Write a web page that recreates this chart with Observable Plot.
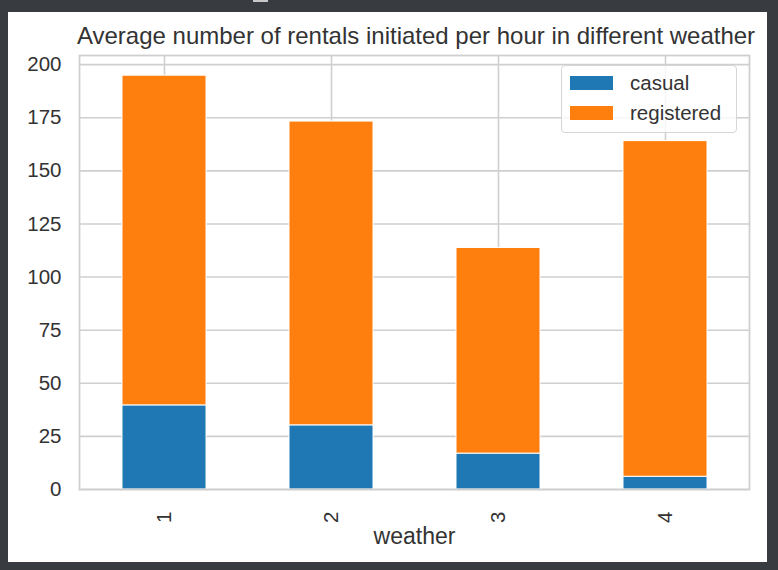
<!DOCTYPE html>
<html>
<head>
<meta charset="utf-8">
<script src="https://cdn.jsdelivr.net/npm/d3@7"></script>
<script src="https://cdn.jsdelivr.net/npm/@observablehq/plot@0.6"></script>
<style>
  html, body { margin: 0; padding: 0; }
  body { background: #383c40; width: 778px; height: 570px; position: relative; overflow: hidden;
         font-family: "Liberation Sans", Arial, sans-serif; }
  #mark { position: absolute; left: 253px; top: 0; width: 15px; height: 2px; background: #c8c8c8; }
  #panel { position: absolute; left: 8px; top: 12px; width: 759px; height: 550px; background: #fff; }
  #legend { position: absolute; left: 553px; top: 53px; width: 174px; height: 66px;
            border: 1px solid #d6d6d6; border-radius: 4px; background: rgba(255,255,255,0.8);
            color: #333; font-size: 20.5px; }
  .sw { position: absolute; left: 8px; width: 43px; height: 14px; }
  .lb { position: absolute; left: 68px; line-height: 20px; }
</style>
</head>
<body>
<div id="mark"></div>
<div id="panel"><div id="chart"></div>
  <div id="legend">
    <div class="sw" style="top:10px;background:#1f77b4"></div><div class="lb" style="top:7px">casual</div>
    <div class="sw" style="top:40px;background:#ff7f0e"></div><div class="lb" style="top:37px">registered</div>
  </div>
</div>
<script>
const weather = ["1", "2", "3", "4"];
const casual = [39.6, 30.2, 16.9, 6.0];
const registered = [155.2, 143.0, 96.8, 158.0];
const seriesNames = ["casual", "registered"];
const seriesColors = ["#1f77b4", "#ff7f0e"];
const yTicks = [0, 25, 50, 75, 100, 125, 150, 175, 200];
const titleText = "Average number of rentals initiated per hour in different weather";
const xLabel = "weather";

const rows = [];
weather.forEach((w, i) => {
  rows.push({weather: w, series: "casual", value: casual[i]});
  rows.push({weather: w, series: "registered", value: registered[i]});
});

const gridColor = "#cfcfcf";
const chart = Plot.plot({
  width: 759,
  height: 550,
  marginLeft: 71,
  marginRight: 18,
  marginTop: 43,
  marginBottom: 73,
  style: {fontFamily: "'Liberation Sans', Arial, sans-serif", fontSize: "20.5px", color: "#333", background: "transparent"},
  x: {type: "band", domain: weather, paddingInner: 0.5, paddingOuter: 0.25},
  y: {domain: [0, 204.3]},
  color: {domain: seriesNames, range: seriesColors},
  marks: [
    Plot.gridY(yTicks, {stroke: gridColor, strokeOpacity: 1, strokeWidth: 1.6}),
    Plot.gridX({stroke: gridColor, strokeOpacity: 1, strokeWidth: 1.6}),
    Plot.barY(rows, {x: "weather", y: "value", fill: "series", stroke: "white", strokeWidth: 1}),
    Plot.frame({stroke: gridColor, strokeWidth: 1.8}),
    Plot.axisY(yTicks, {tickSize: 0, tickPadding: 18, label: null, fontSize: 20.5}),
    Plot.axisX({tickSize: 0, tickPadding: 22, tickRotate: -90, label: null, fontSize: 20.5}),
    Plot.text([xLabel], {frameAnchor: "bottom", lineAnchor: "bottom", dy: 54, fontSize: 23}),
    Plot.text([titleText], {frameAnchor: "top", lineAnchor: "bottom", dy: -12, dx: 1.5, fontSize: 24})
  ]
});
document.getElementById("chart").appendChild(chart);
</script>
</body>
</html>
